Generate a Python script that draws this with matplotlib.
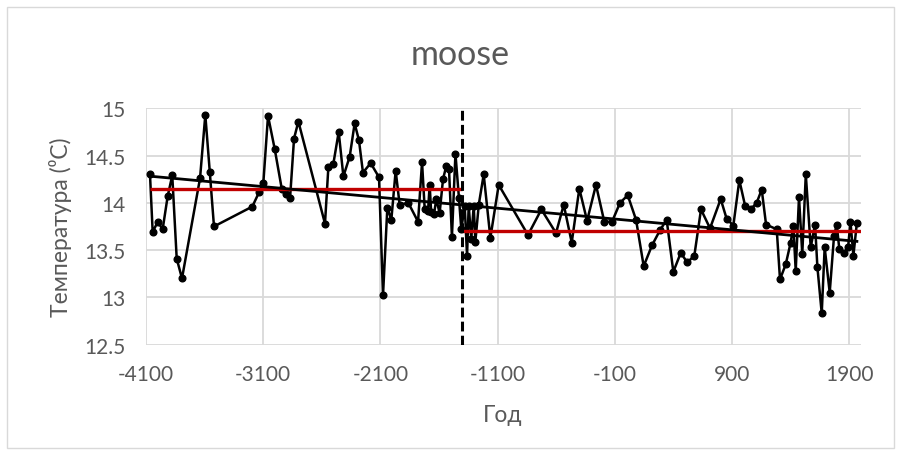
import numpy as np
import matplotlib
matplotlib.use("Agg")
import matplotlib.pyplot as plt
from matplotlib.patches import Rectangle

plt.rcParams['font.family'] = ['Lato', 'DejaVu Sans']

# Reconstructed temperature series (year, °C)
years = [
    -4066, -4043, -4000, -3958, -3915, -3876, -3838, -3793, -3639, -3594,
    -3556, -3520, -3193, -3136, -3099, -3059, -3002, -2942, -2908, -2871,
    -2837, -2800, -2573, -2544, -2502, -2456, -2416, -2362, -2320, -2283,
    -2249, -2183, -2112, -2078, -2041, -2007, -1970, -1936, -1862, -1779,
    -1745, -1722, -1694, -1680, -1667, -1643, -1623, -1595, -1566, -1538,
    -1515, -1490, -1460, -1430, -1410,
    -1381, -1361, -1347, -1325, -1304, -1290, -1261, -1219, -1162, -1091,
    -841, -727, -602, -536, -468, -403, -337, -261, -190, -124,
    -56, 10, 81, 146, 217, 285, 342, 399, 462, 518,
    578, 635, 712, 803, 854, 911, 962, 1011, 1059, 1110,
    1153, 1190, 1281, 1309, 1358, 1400, 1423, 1443, 1471, 1499,
    1529, 1571, 1608, 1628, 1665, 1690, 1733, 1770, 1793, 1815,
    1855, 1890, 1910, 1935, 1965,
]
temps = [
    14.30, 13.69, 13.80, 13.72, 14.07, 14.29, 13.41, 13.20, 14.26, 14.93,
    14.33, 13.75, 13.96, 14.11, 14.21, 14.92, 14.57, 14.15, 14.09, 14.05,
    14.68, 14.86, 13.78, 14.38, 14.41, 14.75, 14.28, 14.49, 14.84, 14.66,
    14.32, 14.42, 14.27, 13.02, 13.95, 13.82, 14.34, 13.98, 14.00, 13.80,
    14.43, 13.93, 13.91, 14.19, 13.90, 13.88, 14.04, 13.89, 14.25, 14.39,
    14.36, 13.64, 14.52, 14.05, 13.72,
    13.97, 13.44, 13.97, 13.62, 13.97, 13.59, 13.98, 14.30, 13.63, 14.19,
    13.66, 13.93, 13.68, 13.98, 13.58, 14.15, 13.81, 14.19, 13.80, 13.80,
    14.00, 14.08, 13.82, 13.33, 13.55, 13.71, 13.82, 13.27, 13.47, 13.37,
    13.44, 13.93, 13.73, 14.04, 13.83, 13.76, 14.24, 13.97, 13.93, 14.00,
    14.14, 13.77, 13.72, 13.19, 13.35, 13.58, 13.76, 13.28, 14.06, 13.46,
    14.30, 13.53, 13.77, 13.32, 12.83, 13.53, 13.05, 13.65, 13.77, 13.51,
    13.47, 13.53, 13.80, 13.44, 13.79,
]

split_year = -1400          # regime boundary
level_before = 14.15        # mean level before the boundary
level_after = 13.70         # mean level after the boundary

x_ticks = [-4100, -3100, -2100, -1100, -100, 900, 1900]
y_ticks = [12.5, 13, 13.5, 14, 14.5, 15]
y_tick_labels = ["12.5", "13", "13.5", "14", "14.5", "15"]

TEXT = '#595959'
GRID = '#d9d9d9'

W, H = 902, 456
fig = plt.figure(figsize=(W / 100, H / 100), dpi=100)
fig.patch.set_facecolor('white')

left, right, top, bottom = 146, 861, 109.3, 345.6
ax = fig.add_axes([left / W, 1 - bottom / H, (right - left) / W, (bottom - top) / H])

x = np.array(years, dtype=float)
y = np.array(temps, dtype=float)

ax.plot(x, y, color='black', lw=1.8, marker='o', ms=4.8, zorder=3)

ax.hlines(level_before, x[0], split_year, color='#c00000', lw=2.4, zorder=4)
ax.hlines(level_after, split_year, 2000, color='#c00000', lw=2.4, zorder=4)

slope, intercept = np.polyfit(x, y, 1)
xt = np.array([x[0], x[-1]])
ax.plot(xt, slope * xt + intercept, color='black', lw=2.0, zorder=5)

ax.axvline(split_year, color='black', lw=2.2, dashes=(3.2, 1.4), zorder=6)

ax.set_xlim(-4100, 2000)
ax.set_ylim(12.5, 15)
ax.set_xticks(x_ticks)
ax.set_xticklabels([str(t) for t in x_ticks])
ax.set_yticks(y_ticks)
ax.set_yticklabels(y_tick_labels)
ax.grid(True, color=GRID, lw=1.3, zorder=0)
ax.set_axisbelow(True)
for s in ax.spines.values():
    s.set_visible(False)
ax.tick_params(axis='both', length=0, labelsize=15, labelcolor=TEXT)
ax.tick_params(axis='x', pad=14)
ax.tick_params(axis='y', pad=15)

fig.text(460 / W, 1 - 65 / H, "moose", ha='center', va='baseline',
         fontsize=24.5, color=TEXT)
fig.text(61 / W, 1 - 227 / H, "Температура (⁰C)", rotation=90,
         ha='center', va='center', fontsize=16.5, color=TEXT)
fig.text(503 / W, 1 - 422 / H, "Год", ha='center', va='baseline',
         fontsize=16.5, color=TEXT)

fig.patches.append(Rectangle((7 / W, 1 - 449 / H), (894 - 7) / W, (449 - 8) / H,
                             transform=fig.transFigure, fill=False,
                             ec=GRID, lw=1.0))

fig.savefig("out.png", dpi=100)
